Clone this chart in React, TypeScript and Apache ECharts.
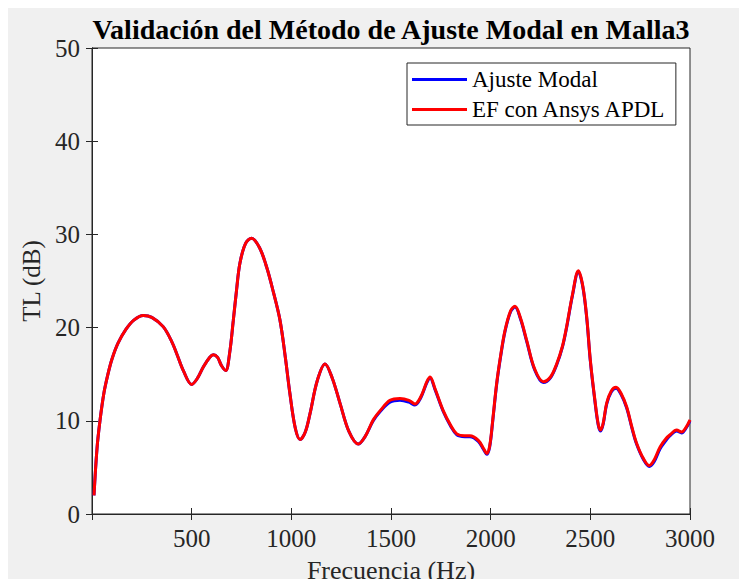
import React, { useEffect, useRef } from "react";
import * as echarts from "echarts";

const titleText = "Validación del Método de Ajuste Modal en Malla3";
const xName = "Frecuencia (Hz)";
const yName = "TL (dB)";
const seriesNames = ["Ajuste Modal", "EF con Ansys APDL"];

const freq = [
  10, 25, 40, 60, 80, 100, 130, 170, 210, 257, 300, 357, 400, 425, 460, 500, 530, 559, 590, 609,
  630, 650, 671, 690, 709, 725, 742, 770, 801, 840, 876, 910, 943, 970, 993, 1020, 1044, 1070, 1094, 1130,
  1169, 1205, 1244, 1290, 1336, 1370, 1411, 1450, 1495, 1545, 1590, 1620, 1650, 1680, 1696, 1720, 1762, 1800, 1830, 1870,
  1896, 1938, 1965, 1980, 1995, 2010, 2030, 2050, 2072, 2100, 2122, 2150, 2181, 2220, 2264, 2300, 2331, 2360, 2381, 2410,
  2440, 2462, 2482, 2500, 2523, 2540, 2552, 2565, 2582, 2605, 2629, 2655, 2682, 2710, 2732, 2765, 2796, 2820, 2850, 2880,
  2900, 2933, 2958, 2980, 3000,
];

const tlEF = [
  2.0, 7.0, 10.0, 13.0, 15.0, 16.6, 18.3, 19.8, 20.8, 21.3, 21.1, 20.1, 18.5, 17.2, 15.3, 13.9, 14.6, 15.8, 16.8, 17.1,
  16.8, 15.9, 15.4, 17.2, 20.8, 24.0, 26.9, 29.0, 29.6, 28.6, 26.5, 23.8, 20.8, 16.8, 12.9, 9.2, 8.0, 8.8, 10.8, 14.3,
  16.1, 14.6, 11.9, 8.8, 7.5, 8.3, 10.1, 11.2, 12.2, 12.4, 12.2, 11.8, 12.6, 14.2, 14.7, 13.5, 11.1, 9.5, 8.6, 8.4,
  8.4, 7.9, 7.0, 6.5, 7.3, 10.0, 14.0, 17.0, 19.7, 21.8, 22.3, 21.0, 18.6, 15.6, 14.2, 14.7, 16.1, 18.0, 20.1, 23.5,
  26.1, 24.5, 21.1, 16.5, 12.2, 9.6, 9.0, 9.8, 11.9, 13.2, 13.6, 12.9, 11.5, 9.2, 7.6, 6.0, 5.2, 5.8, 7.2, 8.1,
  8.5, 9.0, 8.8, 9.3, 10.1,
];

const tlModal = [
  2.0, 7.0, 10.0, 13.0, 15.0, 16.6, 18.3, 19.8, 20.8, 21.3, 21.1, 20.1, 18.5, 17.2, 15.3, 13.9, 14.6, 15.8, 16.8, 17.1,
  16.8, 15.9, 15.4, 17.2, 20.8, 24.0, 26.9, 29.0, 29.6, 28.6, 26.5, 23.8, 20.8, 16.8, 12.9, 9.2, 8.0, 8.8, 10.8, 14.3,
  16.1, 14.6, 11.9, 8.8, 7.5, 8.3, 10.0, 11.1, 12.0, 12.2, 12.0, 11.7, 12.5, 14.1, 14.6, 13.4, 11.0, 9.4, 8.5, 8.3,
  8.3, 7.8, 6.9, 6.4, 7.2, 9.9, 13.9, 16.9, 19.6, 21.7, 22.2, 20.9, 18.5, 15.5, 14.1, 14.6, 16.0, 17.9, 20.0, 23.4,
  26.0, 24.4, 21.0, 16.4, 12.1, 9.5, 8.9, 9.7, 11.8, 13.1, 13.5, 12.8, 11.4, 9.1, 7.5, 5.9, 5.1, 5.6, 7.0, 7.9,
  8.4, 8.9, 8.7, 9.2, 10.0,
];

const xTicks = { min: 0, max: 3000, interval: 500 };
const yTicks = { min: 0, max: 50, interval: 10 };

const FONT = "'Liberation Serif', 'Times New Roman', serif";
const AXIS_COLOR = "#262626";

export default function App() {
  const ref = useRef<HTMLDivElement>(null);

  useEffect(() => {
    if (!ref.current) return;
    const chart = echarts.init(ref.current, undefined, { renderer: "svg" });
    const modalData = freq.map((f, i) => [f, tlModal[i]]);
    const efData = freq.map((f, i) => [f, tlEF[i]]);

    const commonAxisLine = { show: true, lineStyle: { color: AXIS_COLOR, width: 1 } };
    const commonTick = { show: true, inside: true, length: 6, lineStyle: { color: AXIS_COLOR, width: 1 } };

    chart.setOption({
      animation: false,
      backgroundColor: "#f0f0f0",
      textStyle: { fontFamily: FONT },
      grid: {
        left: 84,
        right: 49,
        top: 40,
        bottom: 65,
        containLabel: false,
        outerBoundsMode: "none",
        show: true,
        backgroundColor: "#ffffff",
        borderColor: AXIS_COLOR,
        borderWidth: 1,
      },
      graphic: [
        {
          type: "text",
          x: 383,
          y: 21,
          style: {
            text: titleText,
            fill: "#000000",
            font: `bold 28px ${FONT}`,
            textAlign: "center",
            textVerticalAlign: "middle",
          },
        },
      ],
      legend: {
        orient: "vertical",
        left: 399,
        top: 55,
        align: "left",
        backgroundColor: "#ffffff",
        borderColor: AXIS_COLOR,
        borderWidth: 1,
        borderRadius: 0,
        padding: [5, 9, 4, 5],
        itemGap: 7,
        itemWidth: 55,
        itemHeight: 3,
        icon: "rect",
        textStyle: { fontFamily: FONT, fontSize: 23, color: "#000000" },
        data: seriesNames,
      },
      xAxis: [
        {
          type: "value",
          min: xTicks.min,
          max: xTicks.max,
          interval: xTicks.interval,
          name: xName,
          nameLocation: "middle",
          nameGap: 43,
          nameTextStyle: { fontFamily: FONT, fontSize: 26, color: AXIS_COLOR },
          axisLine: commonAxisLine,
          axisTick: commonTick,
          splitLine: { show: false },
          axisLabel: {
            fontFamily: FONT,
            fontSize: 25,
            color: AXIS_COLOR,
            margin: 12,
            formatter: (v: number) => (v === 0 ? "" : String(v)),
          },
        },
        {
          type: "value",
          position: "top",
          min: xTicks.min,
          max: xTicks.max,
          interval: xTicks.interval,
          axisLine: commonAxisLine,
          axisTick: commonTick,
          splitLine: { show: false },
          axisLabel: { show: false },
        },
      ],
      yAxis: [
        {
          type: "value",
          min: yTicks.min,
          max: yTicks.max,
          interval: yTicks.interval,
          name: yName,
          nameLocation: "middle",
          nameGap: 44,
          nameRotate: 90,
          nameTextStyle: { fontFamily: FONT, fontSize: 25, color: AXIS_COLOR },
          axisLine: commonAxisLine,
          axisTick: commonTick,
          splitLine: { show: false },
          axisLabel: { fontFamily: FONT, fontSize: 25, color: AXIS_COLOR, margin: 12 },
        },
        {
          type: "value",
          position: "right",
          min: yTicks.min,
          max: yTicks.max,
          interval: yTicks.interval,
          axisLine: commonAxisLine,
          axisTick: commonTick,
          splitLine: { show: false },
          axisLabel: { show: false },
        },
      ],
      series: [
        {
          name: seriesNames[0],
          type: "line",
          data: modalData,
          xAxisIndex: 0,
          yAxisIndex: 0,
          smooth: 0.35,
          showSymbol: false,
          symbol: "none",
          lineStyle: { color: "#0000ff", width: 3 },
          itemStyle: { color: "#0000ff" },
        },
        {
          name: seriesNames[1],
          type: "line",
          data: efData,
          xAxisIndex: 0,
          yAxisIndex: 0,
          smooth: 0.35,
          showSymbol: false,
          symbol: "none",
          lineStyle: { color: "#ff0000", width: 3 },
          itemStyle: { color: "#ff0000" },
        },
      ],
    });

    return () => chart.dispose();
  }, []);

  return (
    <div
      ref={ref}
      style={{ position: "fixed", left: 8, top: 8, width: 731, height: 571, background: "#f0f0f0" }}
    />
  );
}
